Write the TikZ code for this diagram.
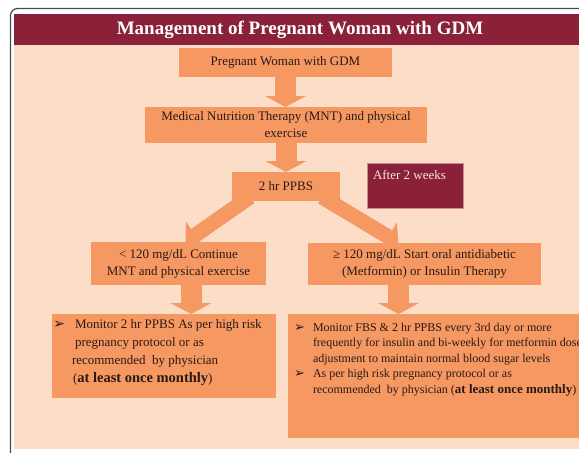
\documentclass[tikz,border=0pt]{standalone}
\usepackage{fontspec}
\setmainfont{Liberation Serif}
\newfontfamily\symfont{DejaVu Sans}
\usetikzlibrary{arrows.meta,calc}
\definecolor{gdmred}{HTML}{8A2138}
\definecolor{gdmredline}{HTML}{C98A96}
\definecolor{gdmlight}{HTML}{F4E4E6}
\definecolor{gdmorange}{HTML}{F59862}
\definecolor{gdmbg}{HTML}{FCDDC8}
\definecolor{gdmframe}{HTML}{4A4A4A}
\definecolor{gdmtext}{HTML}{2A1A14}
\begin{document}
\begin{tikzpicture}[x=1pt,y=-1pt,
  every node/.style={inner sep=0pt,outer sep=0pt},
  box/.style={fill=gdmorange,draw=none,align=center,text=gdmtext,font=\fontsize{13}{17}\selectfont},
  plainbox/.style={fill=gdmorange,draw=none,anchor=north west},
  fatdown/.style={draw=gdmorange,line width=21pt,-{Triangle[width=41pt,length=11pt,line width=0pt]}},
  fatbranch/.style={draw=gdmorange,line width=15pt,-{Triangle[width=33pt,length=12pt,line width=0pt]}},
  bodytext/.style={align=left,anchor=north west,text=gdmtext}]
\useasboundingbox (0,0) rectangle (579,453);
\begin{scope}
\clip (0,0) rectangle (579,453);
\fill[white] (0,0) rectangle (579,453);
\draw[gdmframe,line width=1.2pt,rounded corners=7pt] (10.5,470) -- (10.5,8.5) -- (600,8.5);
\node[fill=gdmbg,anchor=north west,minimum width=580,minimum height=435] (bg) at (14,14) {};
\node[fill=gdmred,anchor=north west,minimum width=580,minimum height=31] (titlebar) at (14,14) {};
\node[text=white,font=\fontsize{19}{22}\selectfont\bfseries] (title) at (300,30) {Management of Pregnant Woman with GDM};
% boxes
\node[box,minimum width=213,minimum height=29] (b1) at (285.5,62.5) {Pregnant Woman with GDM};
\node[box,minimum width=282,minimum height=36] (b2) at (286,125) {Medical Nutrition Therapy (MNT) and physical\\exercise};
\node[box,minimum width=108,minimum height=29] (b3) at (286,186.5) {2 hr PPBS};
\node[fill=gdmred,draw=gdmredline,line width=0.8pt,minimum width=96,minimum height=45,anchor=north west] (wait) at (367,163) {};
\node[anchor=base west,text=gdmlight,font=\fontsize{13}{15}\selectfont] (waittext) at (373,179) {After 2 weeks};
\node[box,minimum width=175,minimum height=43] (b4) at (178.5,263.5) {< 120 mg/dL Continue\\MNT and physical exercise};
\node[box,minimum width=233,minimum height=42] (b5) at (424.5,264) {≥ 120 mg/dL Start oral antidiabetic\\(Metformin) or Insulin Therapy};
\node[plainbox,minimum width=224,minimum height=84] (b6) at (52,314) {};
\node[plainbox,minimum width=310,minimum height=124] (b7) at (288,314) {};
% arrows
\draw[fatdown] (b1.south) -- (b1.south |- b2.north);
\draw[fatdown] (b2.south) -- (b2.south |- b3.north);
\coordinate (a4s) at ($(b4.south)+(12.5,0)$);
\coordinate (a5s) at ($(b5.south)+(-26,0)$);
\draw[fatdown] (a4s) -- (a4s |- b6.north);
\draw[fatdown] (a5s) -- (a5s |- b7.north);
\draw[fatbranch] ($(b3.south)+(-36,-4)$) -- ($(b4.north)+(7,0)$);
\draw[fatbranch] ($(b3.south)+(36,-4)$) -- ($(b5.north)+(-26,0)$);
% body texts
\node[bodytext,font=\fontsize{13}{18}\selectfont] (t6) at (72,319) {\makebox[0pt][r]{{\symfont\fontsize{14}{14}\selectfont ➢}\hspace{7pt}}\hspace*{3pt}Monitor 2 hr PPBS As per high risk\\\hspace*{3pt}pregnancy protocol or as\\recommended~ by physician\\\hspace*{1pt}(\textbf{\fontsize{14.5}{18}\selectfont at least once monthly})};
\node[bodytext,font=\fontsize{12}{15.5}\selectfont] (t7) at (313,323) {\makebox[0pt][r]{{\symfont\fontsize{13}{13}\selectfont ➢}\hspace{8pt}}Monitor FBS \& 2 hr PPBS every 3rd day or more\\frequently for insulin and bi-weekly for metformin dose\\adjustment to maintain normal blood sugar levels\\\makebox[0pt][r]{{\symfont\fontsize{13}{13}\selectfont ➢}\hspace{8pt}}As per high risk pregnancy protocol or as\\recommended~ by physician (\textbf{\fontsize{13}{15}\selectfont at least once monthly})};
\end{scope}
\end{tikzpicture}
\end{document}
